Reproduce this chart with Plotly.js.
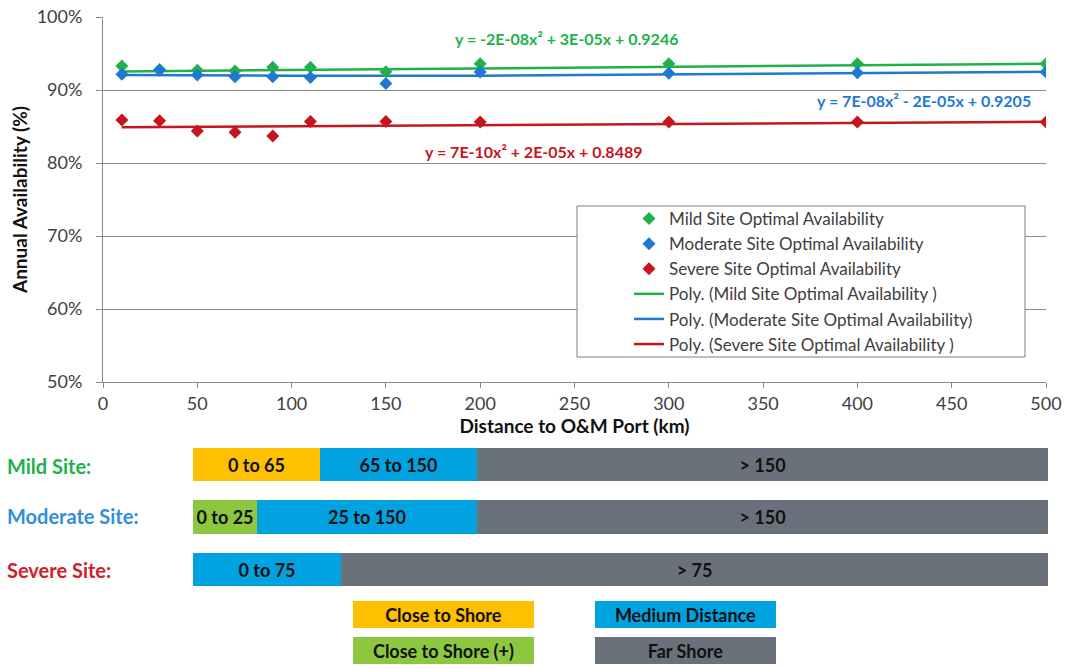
<!DOCTYPE html>
<html><head><meta charset="utf-8">
<script src="https://cdn.plot.ly/plotly-3.0.1.min.js"></script>
<style>html,body{margin:0;padding:0;background:#fff;}#chart{width:1068px;height:668px;}</style>
</head><body><div id="chart"></div>
<script>
// ---- data ----
const distances = [10, 30, 50, 70, 90, 110, 150, 200, 300, 400, 500];
const mildAvail = [93.3, 92.8, 92.7, 92.6, 93.1, 93.1, 92.5, 93.6, 93.6, 93.6, 93.6];
const moderateAvail = [92.15, 92.7, 92.05, 91.8, 91.8, 91.7, 90.9, 92.45, 92.3, 92.35, 92.45];
const severeAvail = [85.9, 85.8, 84.4, 84.2, 83.7, 85.7, 85.7, 85.6, 85.6, 85.6, 85.6];

const trendX = [10, 100, 200, 300, 400, 500];
const mildTrend = [92.55, 92.75, 93.0, 93.25, 93.45, 93.6];
const moderateTrend = [92.05, 91.95, 91.95, 92.1, 92.3, 92.5];
const severeTrend = [84.9, 85.05, 85.2, 85.35, 85.5, 85.65];

const seriesNames = ["Mild Site Optimal Availability", "Moderate Site Optimal Availability", "Severe Site Optimal Availability"];
const trendNames = ["Poly. (Mild Site Optimal Availability )", "Poly. (Moderate Site Optimal Availability)", "Poly. (Severe Site Optimal Availability )"];
const equations = ["y = -2E-08x² + 3E-05x + 0.9246", "y = 7E-08x² - 2E-05x + 0.9205", "y = 7E-10x² + 2E-05x + 0.8489"];

const siteNames = ["Mild Site", "Moderate Site", "Severe Site"];
const siteLabels = ["Mild Site:", "Moderate Site:", "Severe Site:"];
// schematic band widths (share of the band length, %)
const closeShoreSpan = [14.85, 0, 0];
const closeShorePlusSpan = [0, 7.49, 0];
const mediumSpan = [18.37, 25.73, 17.31];
const farSpan = [66.78, 66.78, 82.69];
const closeShoreText = ["0 to 65", "", ""];
const closeShorePlusText = ["", "0 to 25", ""];
const mediumText = ["65 to 150", "25 to 150", "0 to 75"];
const farText = ["> 150", "> 150", "> 75"];
const zoneNames = ["Close to Shore", "Medium Distance", "Close to Shore (+)", "Far Shore"];

// ---- styling ----
const W = 1068, H = 668;
const px = v => v / W, py = v => 1 - v / H;
const FONT = "Lato, 'Open Sans', sans-serif";
const GREEN = "#21b14b", BLUE = "#1f78d1", RED = "#c8141e";
const YELLOW = "#FFC000", LGREEN = "#8DC63F", LBLUE = "#00A3E0", GRAY = "#6B717A";

const traces = [];
const trends = [mildTrend, moderateTrend, severeTrend];
const avails = [mildAvail, moderateAvail, severeAvail];
const cols = [GREEN, BLUE, RED];
for (let i = 0; i < 3; i++) {
  traces.push({
    x: trendX, y: trends[i], type: "scatter", mode: "lines", name: trendNames[i],
    line: {color: cols[i], width: 2.5}, legendrank: 4 + i, hoverinfo: "skip", xaxis: "x", yaxis: "y"
  });
}
for (let i = 0; i < 3; i++) {
  traces.push({
    x: distances, y: avails[i], type: "scatter", mode: "markers", name: seriesNames[i],
    marker: {symbol: "diamond", size: 10, color: cols[i]}, legendrank: 1 + i, xaxis: "x", yaxis: "y"
  });
}
const barDefs = [
  [closeShoreSpan, closeShoreText, YELLOW],
  [closeShorePlusSpan, closeShorePlusText, LGREEN],
  [mediumSpan, mediumText, LBLUE],
  [farSpan, farText, GRAY]
];
barDefs.forEach(([vals, txt, c]) => {
  const idx = vals.map((v, i) => i).filter(i => vals[i] > 0);
  traces.push({
    type: "bar", orientation: "h",
    x: idx.map(i => vals[i]), y: idx.map(i => siteNames[i]), text: idx.map(i => txt[i]),
    textposition: "inside", insidetextanchor: "middle", constraintext: "none",
    textfont: {family: FONT, size: 18, color: "#111", weight: "bold"},
    marker: {color: c, line: {width: 0}}, showlegend: false, hoverinfo: "skip",
    xaxis: "x2", yaxis: "y2", cliponaxis: false
  });
});

const annotations = [
  {xref: "x", yref: "y", x: 246, y: 97.1, text: equations[0], font: {color: GREEN}},
  {xref: "x", yref: "y", x: 435.5, y: 88.5, text: equations[1], font: {color: BLUE}},
  {xref: "x", yref: "y", x: 228.5, y: 81.6, text: equations[2], font: {color: RED}}
].map(a => Object.assign(a, {showarrow: false, font: Object.assign({family: FONT, size: 16, weight: "bold"}, a.font)}));

const rowY = [466, 516, 570];
const rowCols = [GREEN, "#2f8fd9", "#d0202a"];
siteLabels.forEach((t, i) => annotations.push({
  xref: "paper", yref: "paper", x: px(5), y: py(rowY[i]), xanchor: "left", yanchor: "middle",
  text: t, showarrow: false, font: {family: FONT, size: 20, color: rowCols[i], weight: "bold"}
}));

const boxPos = [[353, 601, YELLOW], [595, 601, LBLUE], [353, 637, LGREEN], [595, 637, GRAY]];
zoneNames.forEach((t, i) => annotations.push({
  xref: "paper", yref: "paper", x: px(boxPos[i][0]), y: py(boxPos[i][1]), xanchor: "left", yanchor: "top",
  width: 181, height: 27, bgcolor: boxPos[i][2], borderpad: 0, borderwidth: 0,
  text: t, showarrow: false, font: {family: FONT, size: 18, color: "#111", weight: "bold"}
}));

const layout = {
  width: W, height: H, margin: {l: 0, r: 0, t: 0, b: 0},
  paper_bgcolor: "#fff", plot_bgcolor: "rgba(0,0,0,0)",
  font: {family: FONT, color: "#404040"},
  barmode: "stack", bargap: 0.37,
  xaxis: {
    domain: [px(103), px(1046)], range: [0, 500], dtick: 50, tick0: 0, anchor: "y",
    showgrid: false, zeroline: false, showline: true, linecolor: "#8a8a8a", linewidth: 1,
    ticks: "outside", ticklen: 5, tickcolor: "#8a8a8a", ticklabelstandoff: 0,
    tickfont: {family: FONT, size: 18, color: "#404040"},
    title: {text: "Distance to O&M Port (km)", font: {family: FONT, size: 19, color: "#111", weight: "bold"}, standoff: 1},
    automargin: false
  },
  yaxis: {
    domain: [py(382), py(17)], range: [50, 100], dtick: 10, tick0: 50, ticksuffix: "%", anchor: "x",
    showgrid: true, gridcolor: "#8c8c8c", gridwidth: 1, zeroline: false,
    showline: true, linecolor: "#8a8a8a", linewidth: 1,
    ticks: "outside", ticklen: 6, tickcolor: "#8a8a8a", ticklabelstandoff: 10,
    tickfont: {family: FONT, size: 18, color: "#404040"},
    title: {text: "Annual Availability (%)", font: {family: FONT, size: 19, color: "#111", weight: "bold"}, standoff: 4},
    automargin: false
  },
  xaxis2: {domain: [px(193), px(1048)], range: [0, 100], visible: false, anchor: "y2", fixedrange: true},
  yaxis2: {domain: [py(595.75), py(438.25)], type: "category", categoryorder: "array", categoryarray: siteNames,
           autorange: "reversed", visible: false, anchor: "x2", fixedrange: true},
  showlegend: true,
  legend: {
    x: px(629), y: py(201), xanchor: "left", yanchor: "top",
    bgcolor: "rgba(0,0,0,0)", borderwidth: 0, traceorder: "normal",
    font: {family: FONT, size: 17, color: "#404040"}, itemwidth: 30
  },
  shapes: [{
    type: "rect", xref: "paper", yref: "paper", layer: "above",
    x0: px(577), x1: px(1025), y0: py(357), y1: py(206),
    line: {color: "#7f7f7f", width: 1}, fillcolor: "#ffffff"
  }],
  annotations: annotations
};

Plotly.newPlot("chart", traces, layout, {displayModeBar: false, staticPlot: true});
</script>
</body></html>
